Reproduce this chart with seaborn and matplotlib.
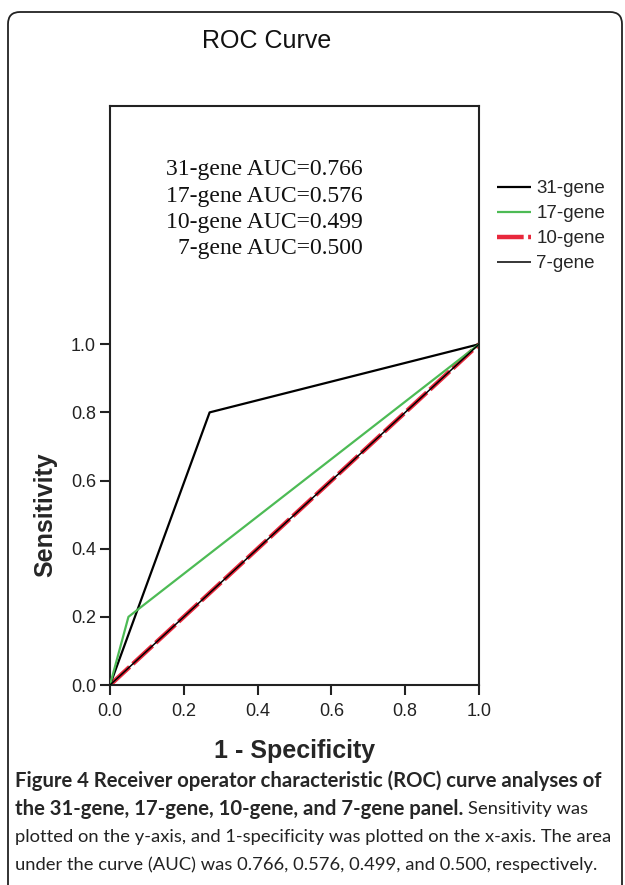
import matplotlib
matplotlib.use("Agg")
import matplotlib.pyplot as plt
import matplotlib.patches as mpatches
from matplotlib.transforms import IdentityTransform
import seaborn as sns
import pandas as pd

# ── Data ─────────────────────────────────────────────────────────────────────
gene_panels = ["31-gene", "17-gene", "10-gene", "7-gene"]
fpr_31 = [0.0, 0.27, 1.0]
tpr_31 = [0.0, 0.80, 1.0]
fpr_17 = [0.0, 0.05, 1.0]
tpr_17 = [0.0, 0.20, 1.0]
fpr_10 = [0.0, 1.0]
tpr_10 = [0.0, 1.0]
fpr_7 = [0.0, 1.0]
tpr_7 = [0.0, 1.0]
auc_values = [0.766, 0.576, 0.499, 0.500]

y_ticks = [0.0, 0.2, 0.4, 0.6, 0.8, 1.0]
x_ticks = [0.0, 0.2, 0.4, 0.6, 0.8, 1.0]

W, H = 625, 885
sns.set_style("white")
plt.rcParams["font.family"] = ["Liberation Sans", "DejaVu Sans"]

fig = plt.figure(figsize=(W / 100, H / 100), dpi=100)

# outer rounded frame (pixel coords)
box = mpatches.FancyBboxPatch(
    (8, -40), 614, H - 12 + 40,
    boxstyle="round,pad=0,rounding_size=12",
    transform=IdentityTransform(), fill=False, ec="#222222", lw=1.3,
)
fig.patches.append(box)

# axes placed in pixel terms
left, right, top, bottom = 110, 479, 105.7, 685
ax = fig.add_axes([left / W, 1 - bottom / H, (right - left) / W, (bottom - top) / H])
y_max = 1.70

styles = [
    dict(color="black", lw=1.6, zorder=3),
    dict(color="#4DBB55", lw=1.6, zorder=3),
    dict(color="#E8283C", lw=3.2, zorder=2, dashes=(6, 1)),
    dict(color="black", lw=1.1, zorder=4),
]
series = [(fpr_31, tpr_31), (fpr_17, tpr_17), (fpr_10, tpr_10), (fpr_7, tpr_7)]

for name, (fx, ty), st in zip(gene_panels, series, styles):
    df = pd.DataFrame({"fpr": fx, "tpr": ty})
    dashes = st.pop("dashes", None)
    sns.lineplot(data=df, x="fpr", y="tpr", ax=ax, label=name,
                 solid_capstyle="butt", **st)
    if dashes is not None:
        ax.lines[-1].set_dashes(dashes)

ax.set_xlim(0, 1)
ax.set_ylim(0, y_max)
ax.set_xticks(x_ticks)
ax.set_yticks(y_ticks)
ax.set_xticklabels([f"{v:.1f}" for v in x_ticks], fontsize=13, color="#222222")
ax.set_yticklabels([f"{v:.1f}" for v in y_ticks], fontsize=13, color="#222222")
ax.tick_params(axis="both", direction="out", length=7, width=1.5, color="#222222",
               bottom=True, left=True, top=False, right=False, pad=3)
ax.tick_params(axis="x", pad=6)
for sp in ax.spines.values():
    sp.set_color("#222222")
    sp.set_linewidth(1.5)

ax.set_xlabel("1 - Specificity", fontsize=18, fontweight="bold")
ax.set_ylabel("Sensitivity", fontsize=18, fontweight="bold")
# centre labels on the 0-1 part of the axis, like the reference
ax.xaxis.set_label_coords(0.5, -(751 - bottom) / (bottom - top), transform=ax.transAxes)
ax.xaxis.label.set_va("center")
ax.yaxis.set_label_coords(-(left - 45) / (right - left), 0.5 / y_max)
ax.yaxis.label.set_va("center")

# legend outside on the right
handles, labels = ax.get_legend_handles_labels()
ax.legend_.remove()
fig.legend(handles, labels, loc="upper left", bbox_to_anchor=(497 / W, 1 - 180 / H),
           frameon=False, fontsize=13.5, handlelength=1.8, handletextpad=0.3,
           labelspacing=0.42, borderpad=0, borderaxespad=0)

# AUC annotation in serif, one text per line, right aligned
for i, (n, a) in enumerate(zip(gene_panels, auc_values)):
    fig.text(363 / W, 1 - (170 + 26.3 * i) / H, f"{n} AUC={a:.3f}",
             ha="right", va="center", fontsize=17, family="Liberation Serif",
             color="#111111")

# title
fig.text(267 / W, 1 - 41 / H, "ROC Curve", ha="center", va="center",
         fontsize=18, color="#111111")

# caption
cap_font = ["Lato", "DejaVu Sans"]
bold_size = 14.6
reg_size = 13.2
y0 = 781
fig.text(15 / W, 1 - y0 / H,
         "Figure 4 Receiver operator characteristic (ROC) curve analyses of",
         fontsize=bold_size, fontweight="bold", family=cap_font, va="center")
t_bold = fig.text(15 / W, 1 - (y0 + 28) / H,
                  "the 31-gene, 17-gene, 10-gene, and 7-gene panel.",
                  fontsize=bold_size, fontweight="bold", family=cap_font, va="center")
renderer = fig.canvas.get_renderer()
bb = t_bold.get_window_extent(renderer)
fig.text((bb.x1 + 5) / W, 1 - (y0 + 28) / H, "Sensitivity was",
         fontsize=reg_size, family=cap_font, va="center", color="#222222")
fig.text(15 / W, 1 - (y0 + 56) / H,
         "plotted on the y-axis, and 1-specificity was plotted on the x-axis. The area",
         fontsize=reg_size, family=cap_font, va="center", color="#222222")
fig.text(15 / W, 1 - (y0 + 84) / H,
         "under the curve (AUC) was 0.766, 0.576, 0.499, and 0.500, respectively.",
         fontsize=reg_size, family=cap_font, va="center", color="#222222")

fig.savefig("out.png", dpi=100)
